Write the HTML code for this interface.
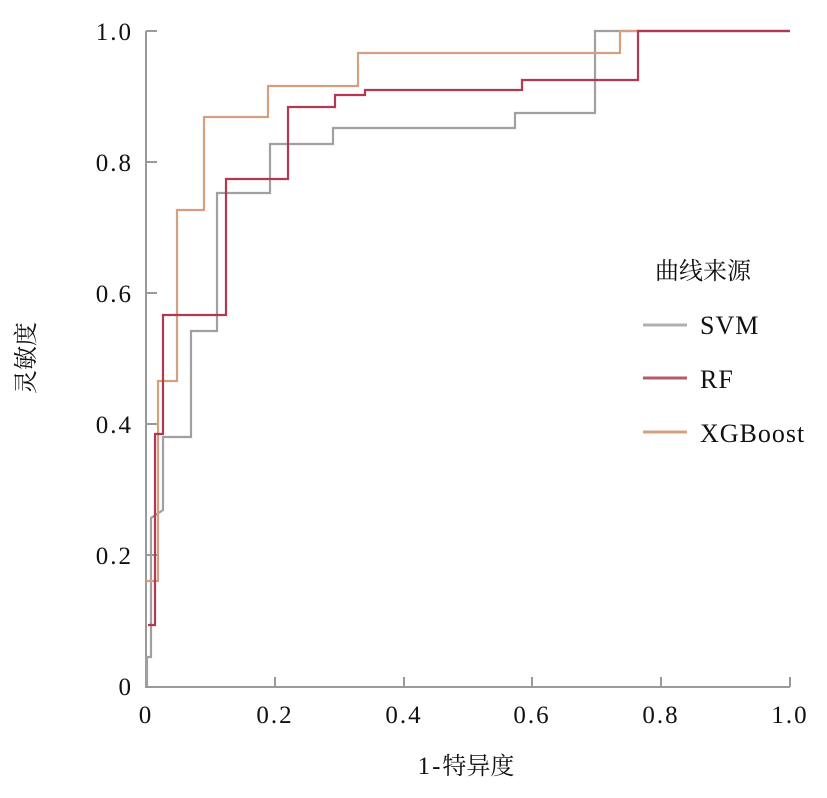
<!DOCTYPE html>
<html><head><meta charset="utf-8"><style>
html,body{margin:0;padding:0;background:#fff;}
svg{display:block;}
text{font-family:"Liberation Serif","Noto Serif CJK SC",serif;fill:#111;letter-spacing:2px;}
.cjk{font-family:"Noto Serif CJK SC","Noto Sans CJK SC",serif;letter-spacing:0;}
.leg{letter-spacing:1px;}
</style></head><body>
<svg width="827" height="798" viewBox="0 0 827 798" xmlns="http://www.w3.org/2000/svg">
<g stroke="#9a9a9a" stroke-width="2" fill="none">
<line x1="146" y1="31" x2="146" y2="687"/>
<line x1="145" y1="687" x2="790" y2="687"/>
<line x1="146" y1="31" x2="157" y2="31"/>
<line x1="146" y1="162" x2="157" y2="162"/>
<line x1="146" y1="293" x2="157" y2="293"/>
<line x1="146" y1="424" x2="157" y2="424"/>
<line x1="146" y1="555" x2="157" y2="555"/>
<line x1="275" y1="687" x2="275" y2="677"/>
<line x1="404" y1="687" x2="404" y2="677"/>
<line x1="532" y1="687" x2="532" y2="677"/>
<line x1="661" y1="687" x2="661" y2="677"/>
<line x1="790" y1="687" x2="790" y2="677"/>
</g>
<g fill="none" stroke-width="2.2">
<polyline stroke="#a0a0a0" points="147,686 147,657 151,657 151,518 163,510 163,437 191,437 191,331 217,331 217,193 270,193 270,144 333,144 333,128 515,128 515,113 595,113 595,31 790,31"/>
<polyline stroke="#d4a080" points="146,581 158,581 158,381 177,381 177,210 204,210 204,117 268,117 268,86 358,86 358,53 620,53 620,31 790,31"/>
<polyline stroke="#b2394f" points="148,625 155,625 155,434 163,434 163,315 226,315 226,179 288,179 288,107 335,107 335,95 365,95 365,90 522,90 522,80 638,80 638,31 790,31"/>
</g>
<g font-size="25" text-anchor="end">
<text x="133" y="40">1.0</text>
<text x="133" y="171">0.8</text>
<text x="133" y="302">0.6</text>
<text x="133" y="433">0.4</text>
<text x="133" y="564">0.2</text>
<text x="133" y="695">0</text>
</g>
<g font-size="25" text-anchor="middle">
<text x="146" y="723">0</text>
<text x="275" y="723">0.2</text>
<text x="404" y="723">0.4</text>
<text x="532" y="723">0.6</text>
<text x="661" y="723">0.8</text>
<text x="790" y="723">1.0</text>
<text x="466" y="774" font-size="25">1-<tspan class="cjk" font-size="24">特异度</tspan></text>
</g>
<text class="cjk" font-size="24" transform="translate(34,358) rotate(-90)" text-anchor="middle">灵敏度</text>
<text class="cjk" x="655" y="279" font-size="24">曲线来源</text>
<g stroke-width="3">
<line x1="643" y1="325" x2="687" y2="325" stroke="#b0b0b0"/>
<line x1="643" y1="378" x2="687" y2="378" stroke="#b45a6a"/>
<line x1="643" y1="432" x2="687" y2="432" stroke="#d4a080"/>
</g>
<g font-size="26" class="leg">
<text class="leg" x="700" y="334">SVM</text>
<text class="leg" x="700" y="388">RF</text>
<text class="leg" x="700" y="442">XGBoost</text>
</g>
</svg>
</body></html>
